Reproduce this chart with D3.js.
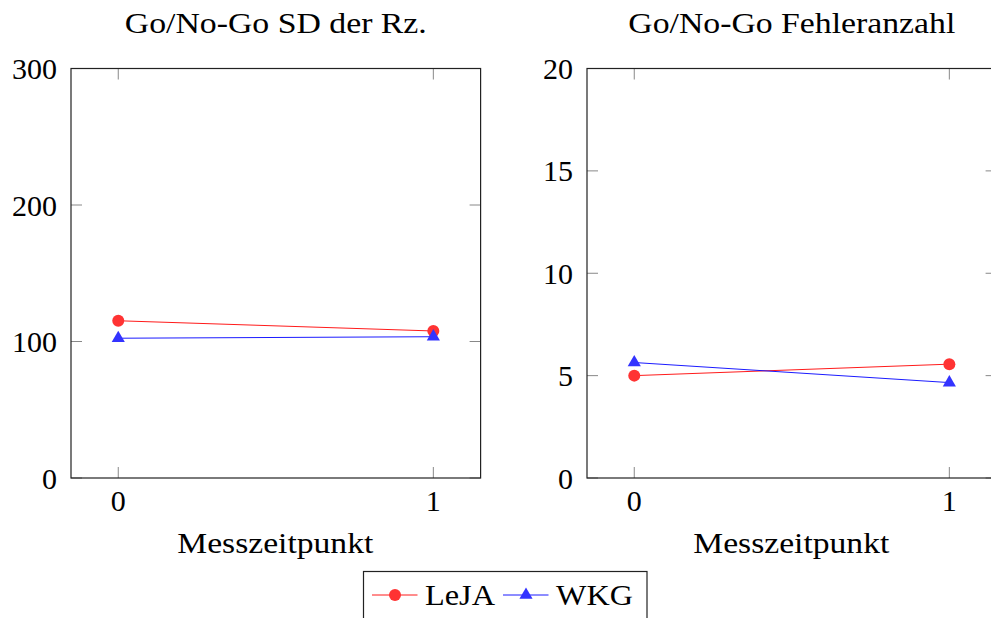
<!DOCTYPE html>
<html>
<head>
<meta charset="utf-8">
<script src="https://cdn.jsdelivr.net/npm/d3@7"></script>
<style>
  body { margin: 0; overflow: hidden; background: #fff; }
  text { font-family: "Liberation Serif", "DejaVu Serif", serif; fill: #000; }
</style>
</head>
<body>
<div id="chart"></div>
<script>
// Messzeitpunkte (x) und Werte je Gruppe
const timepoints = [0, 1];
const sdLeJA = [115.2, 107.7];
const sdWKG = [102.4, 103.5];
const errLeJA = [5.0, 5.56];
const errWKG = [5.64, 4.66];

const seriesNames = ["LeJA", "WKG"];
const leftTicks = [0, 100, 200, 300];
const rightTicks = [0, 5, 10, 15, 20];

const W = 991, H = 618;
const FS = 30;

const svg = d3.select("#chart").append("svg")
    .attr("width", W)
    .attr("height", H);

const red = "#ff3333", blue = "#3333ff";

// words are stretched a bit to get the width of Computer Modern
function label(g, x, y, str, len, anchor) {
    return g.append("text").attr("x", x).attr("y", y)
        .attr("text-anchor", anchor || "middle").attr("font-size", FS)
        .attr("textLength", len).attr("lengthAdjust", "spacingAndGlyphs")
        .text(str);
}

// one panel of the pgfplots-like figure
function drawPanel(opts) {
    const x = d3.scaleLinear().domain([-0.15, 1.15]).range([opts.left, opts.left + 409.6]);
    const y = d3.scaleLinear().domain(opts.yDomain).range([478, 68.5]);
    const g = svg.append("g");

    // inner ticks on all four sides
    const tl = 11;
    opts.yTicks.forEach(t => {
        g.append("line").attr("x1", x.range()[0]).attr("x2", x.range()[0] + tl)
            .attr("y1", y(t)).attr("y2", y(t)).attr("stroke", "#888").attr("stroke-width", 1);
        g.append("line").attr("x1", x.range()[1]).attr("x2", x.range()[1] - tl)
            .attr("y1", y(t)).attr("y2", y(t)).attr("stroke", "#888").attr("stroke-width", 1);
        g.append("text").attr("x", x.range()[0] - 14).attr("y", y(t) + 10.5)
            .attr("text-anchor", "end").attr("font-size", FS).text(t);
    });
    timepoints.forEach(t => {
        g.append("line").attr("x1", x(t)).attr("x2", x(t))
            .attr("y1", y.range()[0]).attr("y2", y.range()[0] - tl).attr("stroke", "#888");
        g.append("line").attr("x1", x(t)).attr("x2", x(t))
            .attr("y1", y.range()[1]).attr("y2", y.range()[1] + tl).attr("stroke", "#888");
        g.append("text").attr("x", x(t)).attr("y", 510.5)
            .attr("text-anchor", "middle").attr("font-size", FS).text(t);
    });

    // frame
    g.append("rect")
        .attr("x", x.range()[0]).attr("y", y.range()[1])
        .attr("width", x.range()[1] - x.range()[0])
        .attr("height", y.range()[0] - y.range()[1])
        .attr("fill", "none").attr("stroke", "#222").attr("stroke-width", 1.2);

    const line = d3.line().x((d, i) => x(timepoints[i])).y(d => y(d));

    // LeJA
    g.append("path").datum(opts.a).attr("d", line)
        .attr("fill", "none").attr("stroke", "#ff0000").attr("stroke-width", 0.9);
    g.selectAll(".m-a").data(opts.a).enter().append("circle")
        .attr("cx", (d, i) => x(timepoints[i])).attr("cy", d => y(d))
        .attr("r", 6).attr("fill", red);

    // WKG
    g.append("path").datum(opts.b).attr("d", line)
        .attr("fill", "none").attr("stroke", "#0000ff").attr("stroke-width", 0.9);
    const tri = d3.symbol().type(d3.symbolTriangle).size(75);
    g.selectAll(".m-b").data(opts.b).enter().append("path")
        .attr("d", tri)
        .attr("transform", (d, i) => `translate(${x(timepoints[i])},${y(d)})`)
        .attr("fill", blue);

    const cx = (x.range()[0] + x.range()[1]) / 2;
    label(g, cx, 33, opts.title, opts.titleLen);
    label(g, cx - 0.5, 553, "Messzeitpunkt", 196);
}

drawPanel({ left: 71, yDomain: [0, 300], yTicks: leftTicks, a: sdLeJA, b: sdWKG,
    title: "Go/No-Go SD der Rz.", titleLen: 302 });
drawPanel({ left: 587, yDomain: [0, 20], yTicks: rightTicks, a: errLeJA, b: errWKG,
    title: "Go/No-Go Fehleranzahl", titleLen: 327 });

// legend
const lg = svg.append("g");
lg.append("rect").attr("x", 363.5).attr("y", 571.5).attr("width", 283.5).attr("height", 60)
    .attr("fill", "#fff").attr("stroke", "#222").attr("stroke-width", 1.2);
const legendItems = [
    { name: seriesNames[0], color: "#ff0000", fill: red, x0: 372, len: 70, shape: "circle" },
    { name: seriesNames[1], color: "#0000ff", fill: blue, x0: 503, len: 77, shape: "tri" }
];
legendItems.forEach(it => {
    lg.append("line").attr("x1", it.x0).attr("x2", it.x0 + 45.5).attr("y1", 595).attr("y2", 595)
        .attr("stroke", it.color).attr("stroke-width", 0.9);
    if (it.shape === "circle") {
        lg.append("circle").attr("cx", it.x0 + 23).attr("cy", 595).attr("r", 6).attr("fill", it.fill);
    } else {
        lg.append("path").attr("d", d3.symbol().type(d3.symbolTriangle).size(75))
            .attr("transform", `translate(${it.x0 + 23},595)`).attr("fill", it.fill);
    }
    label(lg, it.x0 + 53, 604.5, it.name, it.len, "start");
});
</script>
</body>
</html>
